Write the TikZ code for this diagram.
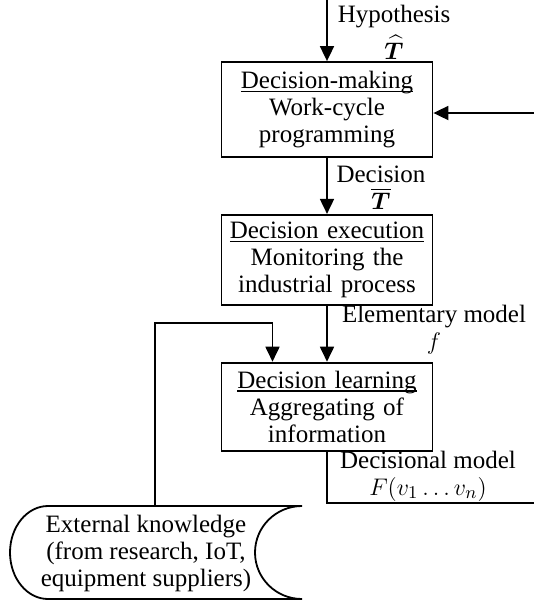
\documentclass[tikz,border=0pt]{standalone}
\usepackage{fontspec}
\setmainfont{Liberation Serif}
\usepackage{amsmath}
\usetikzlibrary{arrows.meta, positioning}

% underline close to the baseline
\newcommand{\boxtitle}[1]{\setbox0\hbox{#1}\rlap{\rule[-2pt]{\wd0}{0.9pt}}\box0}

\begin{document}
\begin{tikzpicture}[x=0.5pt, y=-0.5pt, font=\fontsize{12.5}{13.5}\selectfont, line width=0.9pt]
        \tikzstyle{block} = [rectangle, draw, text width=100pt, align=center, minimum width=105.5pt, inner sep=2pt]
        \tikzstyle{flow} = [-{Triangle[length=7.5pt, width=7pt]}]
        \tikzstyle{tag} = [align=center, inner sep=0pt]
        \useasboundingbox (0,0) rectangle (534,601);

        \node (making) [block, minimum height=47.5pt] at (327,109.5) {
            \boxtitle{Decision-making} \\
            Work-cycle \\
            programming
        };
        \node (execution) [block, minimum height=45pt, below=28pt of making] {
            \boxtitle{Decision execution} \\
            Monitoring the \\
            industrial process
        };
        \node (learning) [block, minimum height=44pt, below=28pt of execution] {
            \boxtitle{Decision learning} \\
            Aggregating of \\
            information
        };

        \node (hypothesis) [tag] at (394,32) {Hypothesis \\[3pt] $\boldsymbol{\widehat{T}}$};
        \node (decision) [tag] at (381,188) {Decision \\ $\boldsymbol{\overline{T}}$};
        \node (elementary) [tag] at (434,330) {Elementary model \\ $f$};
        \node (decisional) [tag] at (428,476) {Decisional model \\ $F(v_1 \ldots v_n)$};

        % stored data shape
        \draw (48,506) -- (302,506) .. controls (276,506) and (255,526.8) .. (255,552.5)
            .. controls (255,578.2) and (276,599) .. (302,599) -- (48,599)
            .. controls (27,599) and (10,578.2) .. (10,552.5)
            .. controls (10,526.8) and (27,506) .. cycle;
        \node (knowledge) [tag] at (146,553) {
            External knowledge \\
            (from research, IoT, \\
            equipment suppliers)
        };

        \coordinate (top) at (327,0);
        \coordinate (side) at (534,113);
        \coordinate (out) at (534,503);
        \coordinate (source) at (155,506);

        \draw[flow] (top) -- (making.north);
        \draw[flow] (side) -- (side -| making.east);
        \draw[flow] (making) -- (execution);
        \draw[flow] (execution) -- (learning);
        \draw[flow] (source) -- ++(0,-183) -| ([xshift=-27.25pt]learning.north);
        \draw (learning.south) |- (out);
    \end{tikzpicture}
\end{document}
